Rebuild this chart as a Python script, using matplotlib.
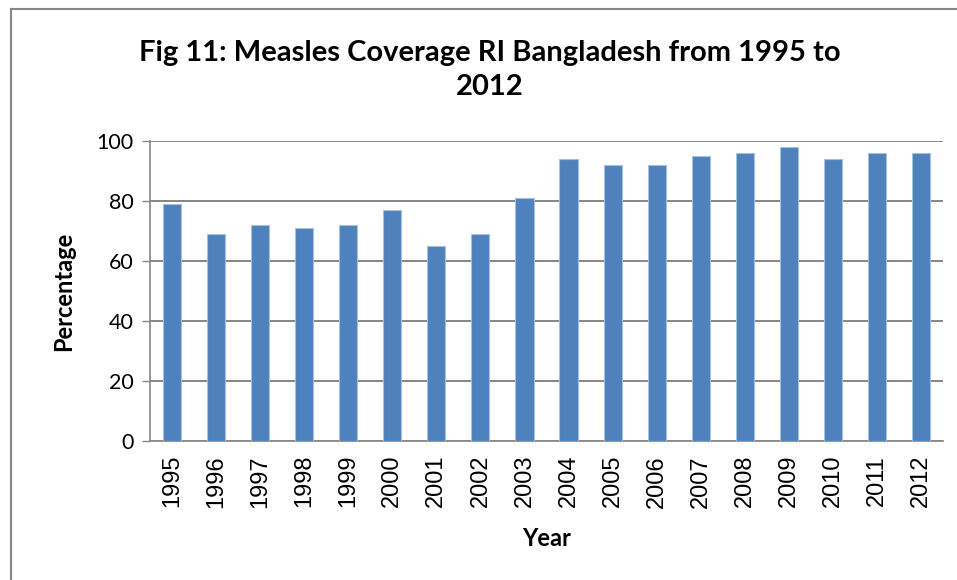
import matplotlib.pyplot as plt
import numpy as np

years = ['1995', '1996', '1997', '1998', '1999', '2000', '2001', '2002', '2003',
         '2004', '2005', '2006', '2007', '2008', '2009', '2010', '2011', '2012']
coverage = [79, 69, 72, 71, 72, 77, 65, 69, 81,
            94, 92, 92, 95, 96, 98, 94, 96, 96]

W, H = 957, 580
fig = plt.figure(figsize=(W / 100, H / 100), dpi=100)
ax = fig.add_axes([150 / W, 1 - 441 / H, (943 - 150) / W, (441 - 141) / H])

x = np.arange(len(years))
ax.bar(x, coverage, width=0.41, color='#4F81BD', edgecolor='#A7C0DE', linewidth=0.8, zorder=3)

ax.set_xlim(-0.5, len(years) - 0.5)
ax.set_ylim(0, 100)
ax.set_yticks(np.arange(0, 101, 20))
ax.set_yticklabels([str(v) for v in range(0, 101, 20)], fontsize=15.5, family='Lato')
ax.set_xticks(x)
ax.set_xticklabels(years, rotation=90, fontsize=17, family='Liberation Sans')
ax.tick_params(axis='x', length=0, pad=10)
ax.tick_params(axis='y', length=6, width=1, color='#868686', pad=6)
ax.grid(axis='y', color='#868686', linewidth=1.4, zorder=0)
for s in ['top', 'right']:
    ax.spines[s].set_visible(False)
for s in ['left', 'bottom']:
    ax.spines[s].set_color('#868686')
    ax.spines[s].set_linewidth(1.2)

ax.set_ylabel('Percentage', fontsize=17, fontweight='bold', family='Lato', labelpad=15)
ax.set_xlabel('Year', fontsize=17, fontweight='bold', family='Lato', labelpad=14)

fig.text(490 / W, 1 - 70 / H, 'Fig 11: Measles Coverage RI Bangladesh from 1995 to\n2012',
         ha='center', va='center', fontsize=21, fontweight='bold', family='Lato',
         linespacing=1.35)

# chart frame (left and top edges visible)
fig.add_artist(plt.Line2D([11 / W, 11 / W], [0, 1 - 9 / H], color='#868686', linewidth=1.5))
fig.add_artist(plt.Line2D([11 / W, 1], [1 - 9 / H, 1 - 9 / H], color='#868686', linewidth=1.5))

fig.savefig('out.png', dpi=100)
